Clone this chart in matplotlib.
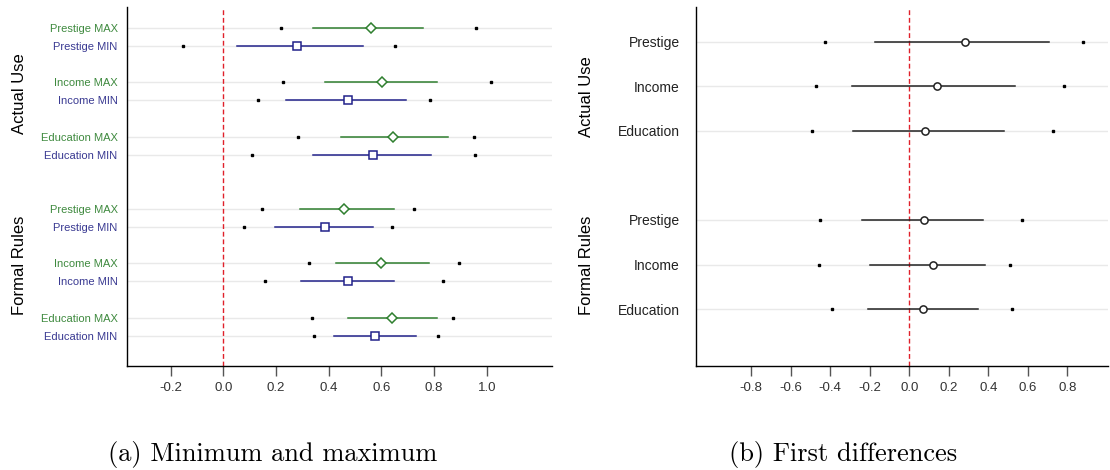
import matplotlib
matplotlib.use("Agg")
import matplotlib.pyplot as plt
from matplotlib.transforms import blended_transform_factory

plt.rcParams['font.family'] = ['Liberation Sans', 'DejaVu Sans']

# ---- data ----
groups = ["Actual Use", "Formal Rules"]
variables = ["Prestige", "Income", "Education"]

# panel (a): per row -> outer low, inner low, estimate, inner high, outer high
# rows go Prestige MAX, Prestige MIN, Income MAX, Income MIN, Education MAX, Education MIN
actual_outer_lo = [0.219, -0.154, 0.226, 0.130, 0.285, 0.109]
actual_inner_lo = [0.339, 0.051, 0.387, 0.239, 0.447, 0.342]
actual_est = [0.561, 0.278, 0.601, 0.472, 0.643, 0.568]
actual_inner_hi = [0.759, 0.531, 0.811, 0.692, 0.853, 0.789]
actual_outer_hi = [0.959, 0.653, 1.016, 0.785, 0.951, 0.957]

formal_outer_lo = [0.146, 0.079, 0.324, 0.157, 0.338, 0.345]
formal_inner_lo = [0.291, 0.195, 0.427, 0.295, 0.474, 0.422]
formal_est = [0.457, 0.387, 0.600, 0.474, 0.641, 0.577]
formal_inner_hi = [0.647, 0.569, 0.780, 0.647, 0.811, 0.733]
formal_outer_hi = [0.724, 0.641, 0.896, 0.835, 0.872, 0.815]

# panel (b): first differences, rows Prestige, Income, Education
fd_actual_outer_lo = [-0.425, -0.472, -0.490]
fd_actual_inner_lo = [-0.173, -0.292, -0.285]
fd_actual_est = [0.280, 0.142, 0.078]
fd_actual_inner_hi = [0.708, 0.533, 0.480]
fd_actual_outer_hi = [0.878, 0.782, 0.726]

fd_formal_outer_lo = [-0.453, -0.456, -0.389]
fd_formal_inner_lo = [-0.237, -0.200, -0.207]
fd_formal_est = [0.073, 0.122, 0.067]
fd_formal_inner_hi = [0.374, 0.382, 0.347]
fd_formal_outer_hi = [0.572, 0.512, 0.522]

ticks_a = [-0.2, 0.0, 0.2, 0.4, 0.6, 0.8, 1.0]
ticks_b = [-0.8, -0.6, -0.4, -0.2, 0.0, 0.2, 0.4, 0.6, 0.8]

GREEN = "#2f7f2f"
BLUE = "#22228a"
GREEN_TXT = "#3f8a3f"
BLUE_TXT = "#3a3a92"


def style_axes(ax, ticks):
    ax.spines['top'].set_visible(False)
    ax.spines['right'].set_visible(False)
    ax.spines['left'].set_linewidth(1.0)
    ax.spines['bottom'].set_linewidth(1.0)
    ax.set_xticks(ticks)
    ax.set_xticklabels([f"{t:.1f}" for t in ticks])
    ax.tick_params(axis='x', length=7.5, width=1, color="#555555",
                   labelsize=9.5, labelcolor="#333333", pad=4)
    ax.tick_params(axis='y', length=0)
    ax.axvline(0, color="#e0202a", lw=1, dashes=(3.5, 2), zorder=1)


def draw_row(ax, y, olo, ilo, est, ihi, ohi, color, marker, ms):
    ax.axhline(y, color="#e9e9e9", lw=1, zorder=0)
    ax.plot([ilo, ihi], [y, y], color=color, lw=1.1, zorder=2)
    ax.plot([olo, ohi], [y, y], ls='none', marker='s', ms=2,
            color='black', zorder=3)
    ax.plot([est], [y], ls='none', marker=marker, ms=ms, mfc='white',
            mec=color, mew=1.1, zorder=4)


def plot_minmax(ax):
    data = [
        (actual_outer_lo, actual_inner_lo, actual_est, actual_inner_hi, actual_outer_hi),
        (formal_outer_lo, formal_inner_lo, formal_est, formal_inner_hi, formal_outer_hi),
    ]
    label_y = [3.65, 13.1]  # where the group titles sit
    ypos, labels, colors = [], [], []
    trans = blended_transform_factory(ax.transAxes, ax.transData)
    for g, (olo, ilo, est, ihi, ohi) in enumerate(data):
        for k in range(len(est)):
            y = g * 10 + (k // 2) * 3 + (k % 2)
            is_max = (k % 2 == 0)
            color = GREEN if is_max else BLUE
            marker = 'D' if is_max else 's'
            draw_row(ax, y, olo[k], ilo[k], est[k], ihi[k], ohi[k], color, marker, 5.2)
            ypos.append(y)
            labels.append(variables[k // 2] + (" MAX" if is_max else " MIN"))
            colors.append(GREEN_TXT if is_max else BLUE_TXT)
        ax.text(-0.254, label_y[g], groups[g], rotation=90,
                ha='center', va='center', fontsize=12, transform=trans)
    ax.set_yticks(ypos)
    ax.set_yticklabels(labels, fontsize=8)
    for lbl, c in zip(ax.get_yticklabels(), colors):
        lbl.set_color(c)
    ax.tick_params(axis='y', pad=7)
    ax.set_xlim(-0.364, 1.246)
    ax.set_ylim(18.66, -1.16)
    style_axes(ax, ticks_a)


def plot_diffs(ax):
    data = [
        (fd_actual_outer_lo, fd_actual_inner_lo, fd_actual_est, fd_actual_inner_hi, fd_actual_outer_hi),
        (fd_formal_outer_lo, fd_formal_inner_lo, fd_formal_est, fd_formal_inner_hi, fd_formal_outer_hi),
    ]
    label_y = [1.23, 5.01]
    ypos, labels = [], []
    trans = blended_transform_factory(ax.transAxes, ax.transData)
    for g, (olo, ilo, est, ihi, ohi) in enumerate(data):
        for k in range(len(est)):
            y = g * 4 + k
            draw_row(ax, y, olo[k], ilo[k], est[k], ihi[k], ohi[k], "#222222", 'o', 5.2)
            ypos.append(y)
            labels.append(variables[k])
        ax.text(-0.265, label_y[g], groups[g], rotation=90,
                ha='center', va='center', fontsize=12, transform=trans)
    ax.set_yticks(ypos)
    ax.set_yticklabels(labels, fontsize=10, color="#222222")
    ax.tick_params(axis='y', pad=11.5)
    ax.set_xlim(-1.081, 1.006)
    ax.set_ylim(7.27, -0.78)
    style_axes(ax, ticks_b)


fig = plt.figure(figsize=(11.1, 4.7), dpi=100)
ax_a = fig.add_axes([0.1147, 0.2219, 0.3823, 0.7632])
ax_b = fig.add_axes([0.6268, 0.2219, 0.3714, 0.7632])

plot_minmax(ax_a)
plot_diffs(ax_b)

# sub-captions in a LaTeX-like serif
fig.text(273 / 1110, 0.0202, "(a) Minimum and maximum", family="cmr10",
         fontsize=19, ha='center', va='baseline')
fig.text(842.7 / 1110, 0.0202, "(b) First differences", family="cmr10",
         fontsize=19, ha='center', va='baseline')

fig.savefig("out.png", dpi=100)
